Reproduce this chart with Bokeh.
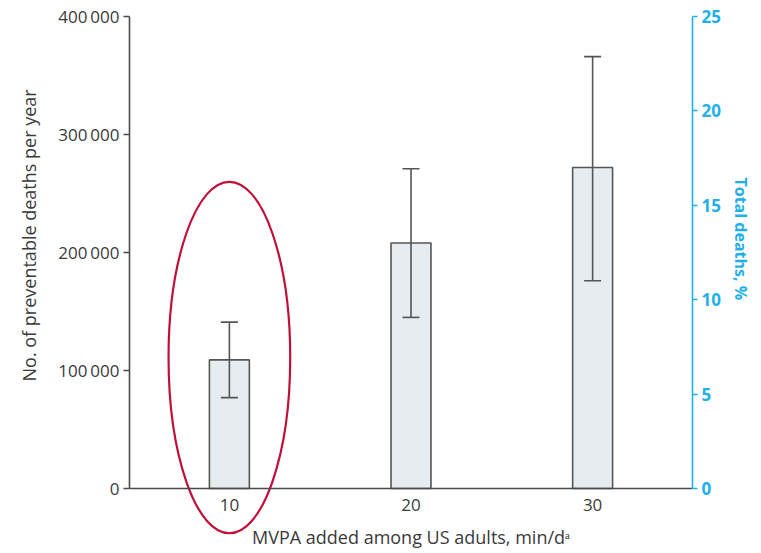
from bokeh.plotting import figure
from bokeh.models import (LinearAxis, Range1d, Whisker, TeeHead, ColumnDataSource,
                          FixedTicker, Title)
from bokeh.embed import file_html
from bokeh.resources import INLINE

# ---- data ----
minutes = [10, 20, 30]
deaths = [109000, 208000, 272000]
lower = [77000, 145000, 176000]
upper = [141000, 271000, 366000]

left_ticks = [0, 100000, 200000, 300000, 400000]
left_labels = ["0", "100\u2009000", "200\u2009000", "300\u2009000", "400\u2009000"]
right_ticks = [0, 5, 10, 15, 20, 25]
pct_max = 25

# highlight ellipse around first bar
ell_cx, ell_cy = 10, 111000
ell_w, ell_h = 6.7, 298000

FONT = "Open Sans"
TEXT = "#3a3a3a"
BLUE = "#1fb0ea"
AXIS = "#4a4a4a"

y_max = 400000
y_min = -55085  # room below zero for the highlight ellipse

p = figure(width=761, height=553, output_backend="svg", toolbar_location=None,
           x_range=Range1d(4.5, 35.5), y_range=Range1d(y_min, y_max),
           min_border_top=16, min_border_left=128, min_border_right=69,
           min_border_bottom=0)
p.outline_line_color = None
p.grid.grid_line_color = None
p.background_fill_color = "white"

src = ColumnDataSource(dict(x=minutes, top=deaths, lo=lower, hi=upper))
p.vbar(x="x", top="top", bottom=0, width=2.2, source=src,
       fill_color="#e6ecf0", line_color="#555555", line_width=1.6)

w = Whisker(base="x", lower="lo", upper="hi", source=src, level="overlay",
            line_color="#555555", line_width=1.6,
            upper_head=TeeHead(size=17, line_color="#555555", line_width=1.6),
            lower_head=TeeHead(size=17, line_color="#555555", line_width=1.6))
p.add_layout(w)

p.ellipse(x=[ell_cx], y=[ell_cy], width=[ell_w], height=[ell_h],
          fill_color=None, line_color="#c0103a", line_width=2.2)

# x axis at y = 0
xa = p.xaxis[0]
xa.fixed_location = 0
xa.ticker = FixedTicker(ticks=minutes)
xa.axis_label = "MVPA added among US adults, min/d\u1d43"
xa.axis_line_color = AXIS
xa.axis_line_width = 1.6
xa.major_tick_line_color = None
xa.minor_tick_line_color = None
xa.major_tick_out = 0
xa.major_label_standoff = 11
xa.major_label_text_font = FONT
xa.major_label_text_font_size = "17px"
xa.major_label_text_color = TEXT
xa.axis_label_text_font = FONT
xa.axis_label_text_font_style = "normal"
xa.axis_label_text_font_size = "18px"
xa.axis_label_text_color = TEXT
xa.axis_label_standoff = 10

# left axis
ya = p.yaxis[0]
ya.bounds = (0, y_max)
ya.ticker = FixedTicker(ticks=left_ticks)
ya.major_label_overrides = {t: l for t, l in zip(left_ticks, left_labels)}
ya.axis_line_color = AXIS
ya.axis_line_width = 1.6
ya.major_tick_line_color = AXIS
ya.major_tick_line_width = 1.6
ya.major_tick_out = 6
ya.major_tick_in = 0
ya.minor_tick_line_color = None
ya.major_label_standoff = 4
ya.major_label_text_font = FONT
ya.major_label_text_font_size = "17px"
ya.major_label_text_color = TEXT

# left axis title (placed over the 0..400000 span)
lt = Title(text="No. of preventable deaths per year", align="left", offset=172,
           text_font=FONT, text_font_style="normal", text_font_size="18px",
           text_color=TEXT, standoff=29)
p.add_layout(lt, "left")

# right axis (percent of total deaths), aligned so 0 % sits on y = 0
p.extra_y_ranges = {"pct": Range1d(y_min * pct_max / y_max, pct_max)}
ra = LinearAxis(y_range_name="pct", ticker=FixedTicker(ticks=right_ticks),
                bounds=(0, pct_max))
ra.axis_line_color = BLUE
ra.axis_line_width = 1.6
ra.major_tick_line_color = BLUE
ra.major_tick_line_width = 1.6
ra.major_tick_out = 5
ra.major_tick_in = 0
ra.minor_tick_line_color = None
ra.major_label_standoff = 4
ra.major_label_text_font = FONT
ra.major_label_text_font_size = "17px"
ra.major_label_text_color = BLUE
ra.major_label_text_font_style = "bold"
p.add_layout(ra, "right")

rt = Title(text="Total deaths, %", align="left", offset=161,
           text_font=FONT, text_font_style="bold", text_font_size="16px",
           text_color=BLUE, standoff=12)
p.add_layout(rt, "right")

open("out.html", "w").write(file_html(p, INLINE))
